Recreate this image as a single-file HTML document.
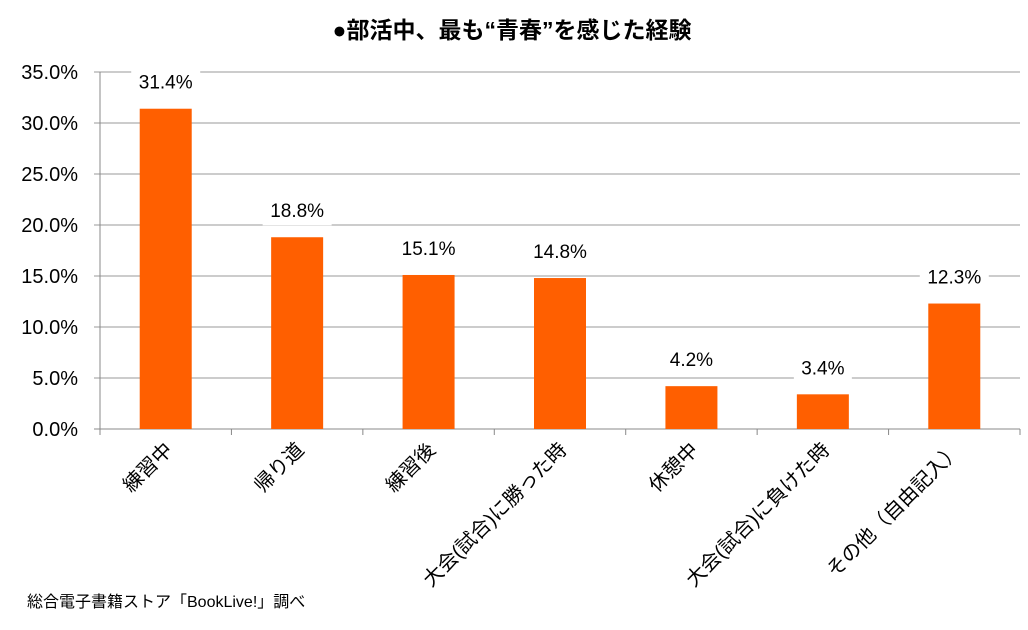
<!DOCTYPE html>
<html><head><meta charset="utf-8"><style>
body{margin:0;background:#fff;}
svg text{font-family:"Liberation Sans","Noto Sans CJK JP",sans-serif;}
</style></head><body>
<svg id="chart" width="1028" height="625" xmlns="http://www.w3.org/2000/svg">
<text x="512" y="38" text-anchor="middle" font-size="23" font-weight="bold" fill="#000">●部活中、最も“青春”を感じた経験</text>
<text x="27" y="607" font-size="16" fill="#000">総合電子書籍ストア「BookLive!」調べ</text>
<g id="grid"></g><g id="bars"></g><g id="labels"></g>
</svg>
<script>
const categories=["練習中","帰り道","練習後","大会(試合)に勝った時","休憩中","大会(試合)に負けた時","その他（自由記入）"];
const values=[31.4,18.8,15.1,14.8,4.2,3.4,12.3];
const valueLabels=["31.4%","18.8%","15.1%","14.8%","4.2%","3.4%","12.3%"];
const yTicks=[0,5,10,15,20,25,30,35];
const yTickLabels=["0.0%","5.0%","10.0%","15.0%","20.0%","25.0%","30.0%","35.0%"];
const NS="http://www.w3.org/2000/svg";
const L=100,R=1020,T=72,B=429,yMax=35;
const y=v=>B-(v/yMax)*(B-T);
const bw=(R-L)/categories.length;
const xc=i=>L+bw*(i+0.5);
function mk(tag,attrs,parent){const e=document.createElementNS(NS,tag);for(const k in attrs)e.setAttribute(k,attrs[k]);parent.appendChild(e);return e;}
const grid=document.getElementById('grid'),bars=document.getElementById('bars'),labels=document.getElementById('labels');
yTicks.forEach((t,i)=>{
  const ln=mk('line',{x1:L-6,x2:R,y1:y(t),y2:y(t),stroke:t===0?'#888':'#999','stroke-width':1},grid);
  
  
  const tx=mk('text',{x:78,y:y(t)+7,'text-anchor':'end','font-size':20,fill:'#000'},grid);
  tx.textContent=yTickLabels[i];
  
  
});
const ax=mk('line',{x1:L,x2:L,y1:T,y2:B+6,stroke:'#888'},grid);


for(let i=0;i<=categories.length;i++){
  const tk=mk('line',{x1:L+bw*i,x2:L+bw*i,y1:B,y2:B+6,stroke:'#888'},grid);
  
  
}
categories.forEach((c,i)=>{
  const bx=xc(i)-26;
  const r=mk('rect',{x:bx,y:y(values[i]),width:52,height:B-y(values[i]),fill:'#FF5F00'},bars);
  
  
  const w=valueLabels[i].length*11+14;
  const bg=mk('rect',{x:xc(i)-w/2,y:y(values[i])-40,width:w,height:28,fill:'#fff'},labels);
  
  
  const vt=mk('text',{x:xc(i),y:y(values[i])-20,'text-anchor':'middle','font-size':19,fill:'#000'},labels);
  vt.textContent=valueLabels[i];
  
  
  const cx=xc(i)+8,cy=B+22;
  const ct=mk('text',{x:cx,y:cy,'text-anchor':'end','font-size':20,fill:'#000',transform:`rotate(-45 ${cx} ${cy})`},labels);
  ct.textContent=c;
  
  
});
</script>
</body></html>
